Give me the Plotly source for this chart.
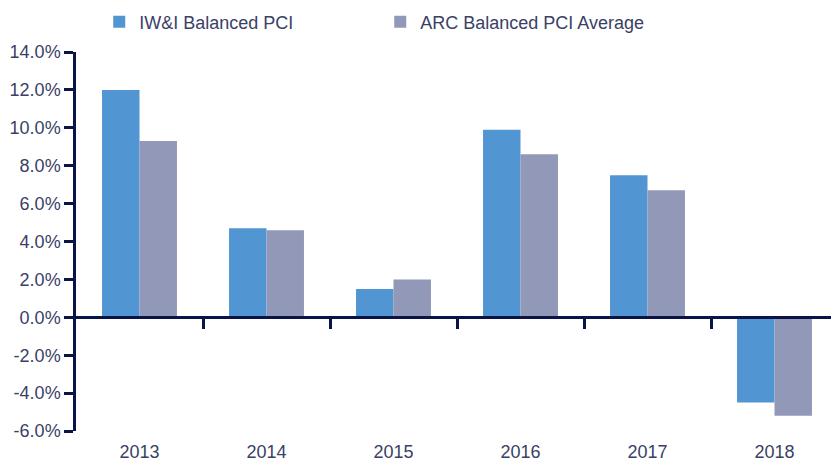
import plotly.graph_objects as go

years = ["2013", "2014", "2015", "2016", "2017", "2018"]
iwi_balanced = [12.0, 4.7, 1.5, 9.9, 7.5, -4.5]
arc_balanced_avg = [9.3, 4.6, 2.0, 8.6, 6.7, -5.2]
series_names = ["IW&I Balanced PCI", "ARC Balanced PCI Average"]
y_ticks = [-6, -4, -2, 0, 2, 4, 6, 8, 10, 12, 14]
y_range = [-6, 14]

blue = "#5196d2"
grey = "#9298b7"
navy = "#0b1448"
text_col = "#3a3f66"
font_family = "Liberation Sans, Arial, sans-serif"

# the page body has an 8px margin, so the figure is sized to fit the window
W, H = 831, 455

fig = go.Figure()
fig.add_trace(go.Bar(x=years, y=iwi_balanced, name=series_names[0],
                     marker=dict(color=blue, line=dict(width=0))))
fig.add_trace(go.Bar(x=years, y=arc_balanced_avg, name=series_names[1],
                     marker=dict(color=grey, line=dict(width=0))))
# dummy trace to anchor the zero-line axis with category boundary ticks
fig.add_trace(go.Scatter(x=[None], y=[None], xaxis="x2", yaxis="y",
                         showlegend=False, hoverinfo="skip"))

zero_frac = (0 - y_range[0]) / (y_range[1] - y_range[0])
boundaries = [i + 0.5 for i in range(len(years) - 1)]

fig.update_layout(
    width=W, height=H,
    margin=dict(l=68, r=1, t=44, b=32, autoexpand=False),
    paper_bgcolor="white", plot_bgcolor="white",
    barmode="group", bargap=0.41, bargroupgap=0,
    font=dict(family=font_family, size=18, color=text_col),
    legend=dict(orientation="h", x=0.0305, xanchor="left",
                y=1 - 14 / H, yanchor="middle", yref="container",
                entrywidth=236, entrywidthmode="pixels",
                font=dict(size=18, color=text_col), itemclick=False),
    xaxis=dict(type="category", range=[-0.5, len(years) - 0.5],
               showline=False, ticks="", showgrid=False, zeroline=False,
               automargin=False, ticklabelstandoff=8,
               tickfont=dict(size=18, color=text_col)),
    xaxis2=dict(overlaying="x", anchor="free", position=zero_frac,
                range=[-0.5, len(years) - 0.5], showline=True, linecolor=navy,
                linewidth=3, ticks="outside", ticklen=10, tickwidth=2.5,
                tickcolor=navy, tickvals=boundaries, showticklabels=False,
                showgrid=False, zeroline=False, automargin=False),
    yaxis=dict(range=y_range, tickvals=y_ticks,
               ticktext=[f"{v:.1f}%" for v in y_ticks],
               showline=True, linecolor=navy, linewidth=2.5,
               ticks="outside", ticklen=9, tickwidth=2.5, tickcolor=navy,
               showgrid=False, zeroline=False, automargin=False,
               tickfont=dict(size=18, color=text_col)),
)

fig.write_html("out.html")
